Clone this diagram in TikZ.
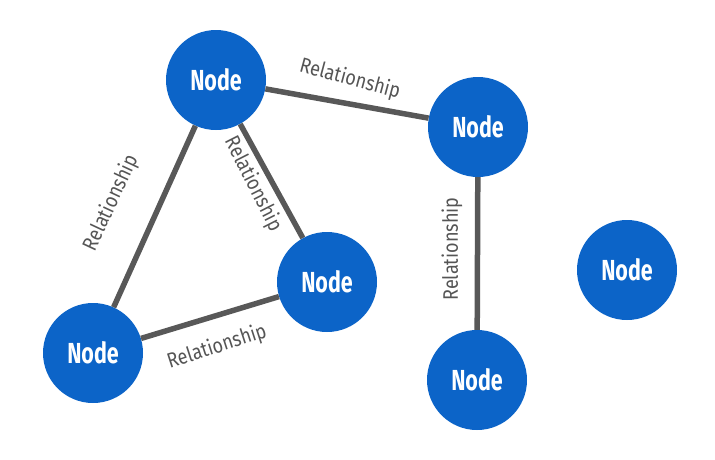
\documentclass[tikz,border=0pt]{standalone}
\usepackage{fontspec}
\setmainfont{Fira Sans}[FakeStretch=0.74]
\newfontfamily\labelfont{Fira Sans}[FakeStretch=0.86]
\definecolor{nodeblue}{RGB}{12,100,200}
\definecolor{edgegray}{RGB}{88,88,88}
\definecolor{labelgray}{RGB}{85,85,85}
\begin{document}
\begin{tikzpicture}[x=1pt,y=-1pt,
  gnode/.style={circle,fill=nodeblue,minimum size=100pt,inner sep=0pt,text=white,font=\fontsize{29}{30}\selectfont\bfseries},
  rel/.style={line width=5.5pt,draw=edgegray},
  rlabel/.style={text=labelgray,font=\labelfont\fontsize{21}{22}\selectfont,inner sep=0pt}]
\useasboundingbox (0,0) rectangle (715,459);
\node[gnode] (top) at (216,80) {Node};
\node[gnode] (right) at (478,127) {Node};
\node[gnode] (mid) at (327,282) {Node};
\node[gnode] (left) at (93,353) {Node};
\node[gnode] (bright) at (477,380) {Node};
\node[gnode] (far) at (627,270) {Node};
\draw[rel] (top) -- (right);
\draw[rel] (top) -- (left);
\draw[rel] (top) -- (mid);
\draw[rel] (left) -- (mid);
\draw[rel] (right) -- (bright);
\node[rlabel,rotate=-15] (l1) at (350,79) {Relationship};
\node[rlabel,rotate=65] (l2) at (111,203) {Relationship};
\node[rlabel,rotate=-63] (l3) at (253,184) {Relationship};
\node[rlabel,rotate=18] (l4) at (217,347) {Relationship};
\node[rlabel,rotate=90] (l5) at (452,249) {Relationship};
\end{tikzpicture}
\end{document}
